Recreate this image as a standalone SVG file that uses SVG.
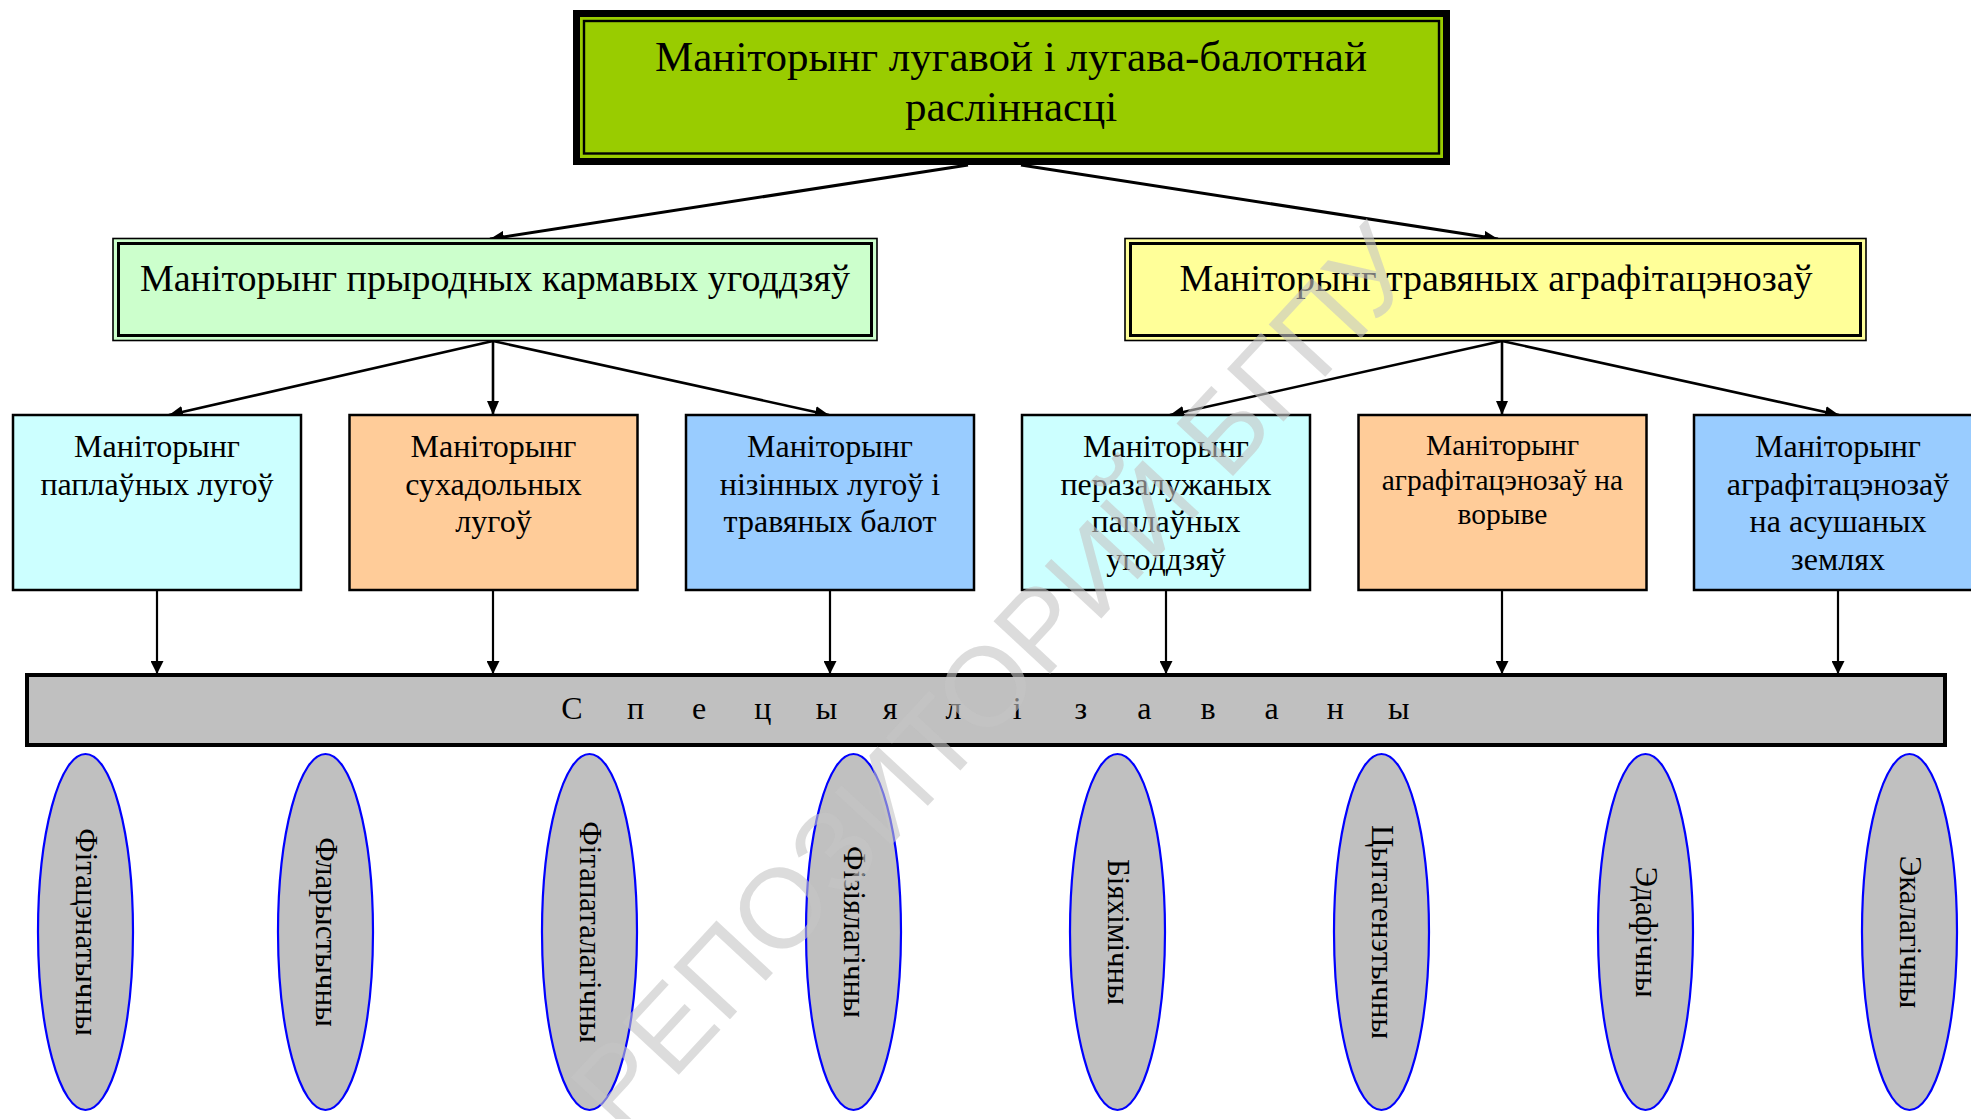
<svg xmlns="http://www.w3.org/2000/svg" width="1971" height="1119" viewBox="0 0 1971 1119">
<style>
text { font-family: "Liberation Serif", "Times New Roman", serif; fill: #000; text-anchor: middle; }
.t1 { font-size: 43px; }
.t2 { font-size: 38px; }
.t3 { font-size: 32px; }
.t3s { font-size: 29.5px; }
.bar { font-size: 32px; }
.el { font-size: 31px; }
.box3 { stroke: #000; stroke-width: 2.5; }
.ell { fill: #C0C0C0; stroke: #0000FF; stroke-width: 2.2; }
.conn line { stroke: #000; }
.wm { font-family: "Liberation Sans", Arial, sans-serif; font-size: 112px; fill: #C4C4C4; fill-opacity: 0.6; text-anchor: end; }
</style>
<defs>
<marker id="ah" viewBox="0 0 14 12" refX="14" refY="6" markerWidth="14" markerHeight="12" orient="auto" markerUnits="userSpaceOnUse">
<path d="M0,0 L14,6 L0,12 z" fill="#000"/>
</marker>
<marker id="ahv" viewBox="0 0 13 13" refX="13" refY="6.5" markerWidth="13" markerHeight="13" orient="auto" markerUnits="userSpaceOnUse">
<path d="M0,0 L13,6.5 L0,13 z" fill="#000"/>
</marker>
</defs>
<rect width="1971" height="1119" fill="#fff"/>

<g id="connectors" class="conn">
<line x1="968" y1="165" x2="490" y2="239" stroke-width="3" marker-end="url(#ah)"/>
<line x1="1021" y1="165" x2="1498" y2="239" stroke-width="3" marker-end="url(#ah)"/>
<line x1="493" y1="341" x2="169" y2="415" stroke-width="2.6" marker-end="url(#ah)"/>
<line x1="493" y1="341" x2="493" y2="415" stroke-width="2.6" marker-end="url(#ah)"/>
<line x1="493" y1="341" x2="829" y2="415" stroke-width="2.6" marker-end="url(#ah)"/>
<line x1="1502" y1="341" x2="1170" y2="415" stroke-width="2.6" marker-end="url(#ah)"/>
<line x1="1502" y1="341" x2="1502" y2="415" stroke-width="2.6" marker-end="url(#ah)"/>
<line x1="1502" y1="341" x2="1839" y2="415" stroke-width="2.6" marker-end="url(#ah)"/>
<line x1="157" y1="590" x2="157" y2="674" stroke-width="2.2" marker-end="url(#ahv)"/>
<line x1="493" y1="590" x2="493" y2="674" stroke-width="2.2" marker-end="url(#ahv)"/>
<line x1="830" y1="590" x2="830" y2="674" stroke-width="2.2" marker-end="url(#ahv)"/>
<line x1="1166" y1="590" x2="1166" y2="674" stroke-width="2.2" marker-end="url(#ahv)"/>
<line x1="1502" y1="590" x2="1502" y2="674" stroke-width="2.2" marker-end="url(#ahv)"/>
<line x1="1838" y1="590" x2="1838" y2="674" stroke-width="2.2" marker-end="url(#ahv)"/>
</g>

<g id="root">
<rect x="576.5" y="13.5" width="870" height="148" fill="#99CC00" stroke="#000" stroke-width="7"/>
<rect x="584" y="21" width="855" height="132.5" fill="none" stroke="#000" stroke-width="2.4"/>
<text class="t1" x="1011" y="71">Маніторынг лугавой і лугава-балотнай</text>
<text class="t1" x="1011" y="121">расліннасці</text>
</g>

<g id="natural">
<rect x="113" y="238.5" width="764" height="102" fill="#CCFFCC" stroke="#000" stroke-width="1.6"/>
<rect x="118.5" y="243.5" width="753" height="92" fill="none" stroke="#000" stroke-width="3"/>
<text class="t2" x="495" y="291">Маніторынг прыродных кармавых угоддзяў</text>
</g>

<g id="agro">
<rect x="1125" y="238.5" width="741" height="102" fill="#FFFF99" stroke="#000" stroke-width="1.6"/>
<rect x="1130.5" y="243.5" width="730" height="92" fill="none" stroke="#000" stroke-width="3"/>
<text class="t2" x="1496" y="291">Маніторынг травяных аграфітацэнозаў</text>
</g>

<g id="b1">
<rect class="box3" x="13" y="415" width="288" height="175" fill="#CCFFFF"/>
<text class="t3" x="157" y="457">Маніторынг</text>
<text class="t3" x="157" y="494.7">паплаўных лугоў</text>
</g>
<g id="b2">
<rect class="box3" x="349.5" y="415" width="288" height="175" fill="#FFCC99"/>
<text class="t3" x="493.5" y="457">Маніторынг</text>
<text class="t3" x="493.5" y="494.7">сухадольных</text>
<text class="t3" x="493.5" y="532.4">лугоў</text>
</g>
<g id="b3">
<rect class="box3" x="686" y="415" width="288" height="175" fill="#99CCFF"/>
<text class="t3" x="830" y="457">Маніторынг</text>
<text class="t3" x="830" y="494.7">нізінных лугоў і</text>
<text class="t3" x="830" y="532.4">травяных балот</text>
</g>
<g id="b4">
<rect class="box3" x="1022" y="415" width="288" height="175" fill="#CCFFFF"/>
<text class="t3" x="1166" y="457">Маніторынг</text>
<text class="t3" x="1166" y="494.7">перазалужаных</text>
<text class="t3" x="1166" y="532.4">паплаўных</text>
<text class="t3" x="1166" y="570">угоддзяў</text>
</g>
<g id="b5">
<rect class="box3" x="1358.5" y="415" width="288" height="175" fill="#FFCC99"/>
<text class="t3s" x="1502.5" y="455">Маніторынг</text>
<text class="t3s" x="1502.5" y="489.5">аграфітацэнозаў на</text>
<text class="t3s" x="1502.5" y="524">ворыве</text>
</g>
<g id="b6">
<rect class="box3" x="1694" y="415" width="288" height="175" fill="#99CCFF"/>
<text class="t3" x="1838" y="457">Маніторынг</text>
<text class="t3" x="1838" y="494.7">аграфітацэнозаў</text>
<text class="t3" x="1838" y="532.4">на асушаных</text>
<text class="t3" x="1838" y="570">землях</text>
</g>

<g id="spec">
<rect x="27" y="675" width="1918" height="70" fill="#C0C0C0" stroke="#000" stroke-width="4"/>
<text class="bar" x="572 603.8 635.6 667.4 699.2 731 762.8 794.6 826.4 858.2 890 921.8 953.6 985.4 1017.2 1049 1080.8 1112.6 1144.4 1176.2 1208 1239.8 1271.6 1303.4 1335.2 1367 1398.8" y="719">С п е ц ы я л і з а в а н ы</text>
</g>

<g id="e1"><ellipse class="ell" cx="85.5" cy="932" rx="47.5" ry="178"/><text class="el" transform="translate(85.5,932) rotate(90)" x="0" y="10">Фітацэнатычны</text></g>
<g id="e2"><ellipse class="ell" cx="325.5" cy="932" rx="47.5" ry="178"/><text class="el" transform="translate(325.5,932) rotate(90)" x="0" y="10">Фларыстычны</text></g>
<g id="e3"><ellipse class="ell" cx="589.5" cy="932" rx="47.5" ry="178"/><text class="el" transform="translate(589.5,932) rotate(90)" x="0" y="10">Фітапаталагічны</text></g>
<g id="e4"><ellipse class="ell" cx="853.5" cy="932" rx="47.5" ry="178"/><text class="el" transform="translate(853.5,932) rotate(90)" x="0" y="10">Фізіялагічны</text></g>
<g id="e5"><ellipse class="ell" cx="1117.5" cy="932" rx="47.5" ry="178"/><text class="el" transform="translate(1117.5,932) rotate(90)" x="0" y="10">Біяхімічны</text></g>
<g id="e6"><ellipse class="ell" cx="1381.5" cy="932" rx="47.5" ry="178"/><text class="el" transform="translate(1381.5,932) rotate(90)" x="0" y="10">Цытагенэтычны</text></g>
<g id="e7"><ellipse class="ell" cx="1645.5" cy="932" rx="47.5" ry="178"/><text class="el" transform="translate(1645.5,932) rotate(90)" x="0" y="10">Эдафічны</text></g>
<g id="e8"><ellipse class="ell" cx="1909.5" cy="932" rx="47.5" ry="178"/><text class="el" transform="translate(1909.5,932) rotate(90)" x="0" y="10">Экалагічны</text></g>

<g id="watermark">
<text class="wm" transform="translate(1423,271) rotate(-47.2)" x="0" y="0" textLength="1180" lengthAdjust="spacingAndGlyphs">РЕПОЗИТОРИЙ БГПУ</text>
</g>
</svg>
